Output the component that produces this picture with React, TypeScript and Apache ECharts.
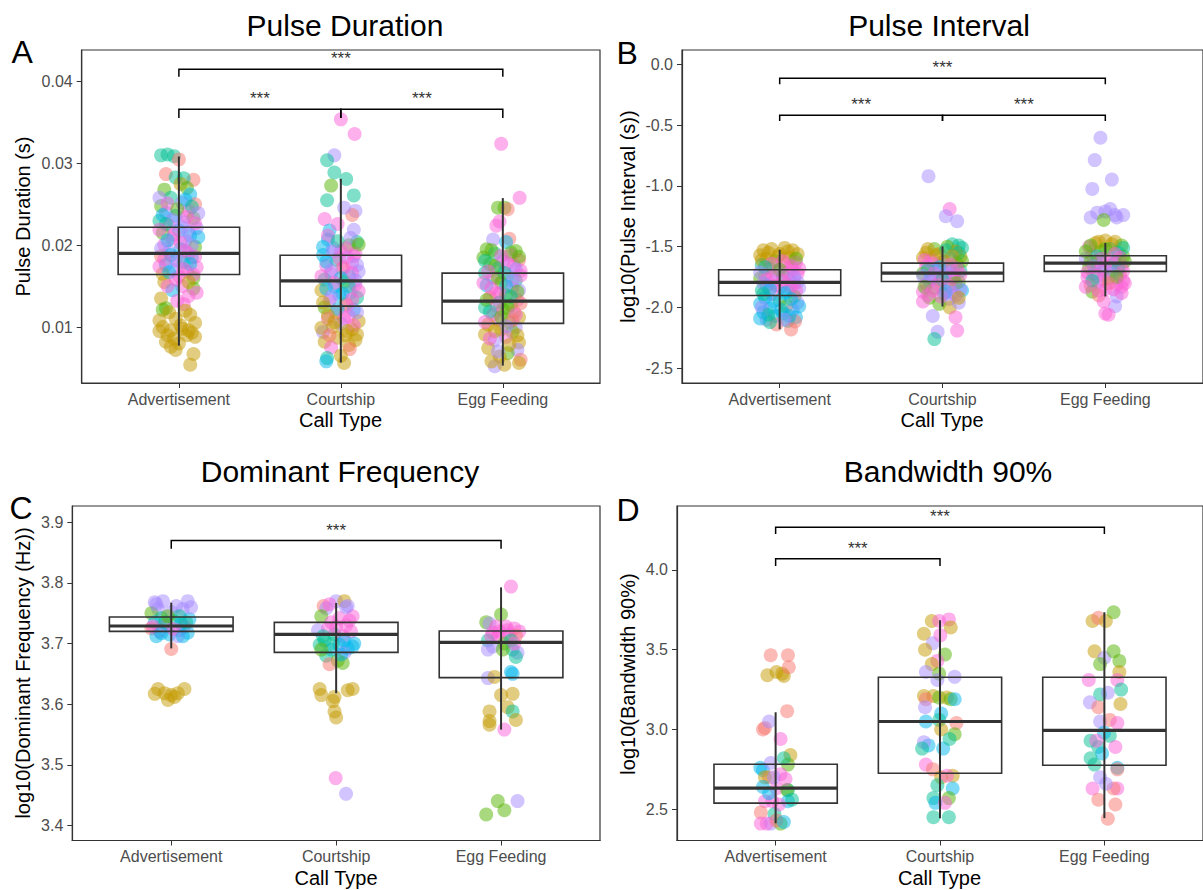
import React, { useEffect, useRef } from "react";
import * as echarts from "echarts";

const FONT = '"Liberation Sans", Arial, Helvetica, sans-serif';
const PALETTE = ["#F8766D", "#C49A00", "#53B400", "#00C094", "#00B6EB", "#A58AFF", "#FB61D7"];
const CATEGORIES = ["Advertisement", "Courtship", "Egg Feeding"];

// ---------- Panel A : Pulse Duration ----------  [jitter, value, colour index]
const pdAdv = [
  [-0.11,0.0310,3],[-0.07,0.0311,3],[-0.03,0.0309,3],[0.00,0.0305,0],[-0.08,0.0287,0],[0.09,0.0280,0],[-0.02,0.0283,3],[0.03,0.0282,3],[-0.09,0.0268,2],[0.01,0.0275,1],[0.05,0.0270,2],[0.07,0.0262,4],[-0.05,0.0258,3],[0.10,0.0250,0],[-0.11,0.0248,2],[0.02,0.0252,5],
  [-0.08,0.0240,5],[0.06,0.0242,6],[-0.02,0.0236,4],[0.09,0.0233,2],[-0.12,0.0230,3],[0.03,0.0228,5],[-0.06,0.0224,6],[0.11,0.0221,5],[0.00,0.0218,4],[-0.10,0.0215,2],[0.07,0.0212,4],[-0.04,0.0208,6],[0.04,0.0205,5],[-0.09,0.0201,6],[0.10,0.0198,2],[0.01,0.0195,4],[-0.06,0.0192,5],[0.06,0.0190,6],[-0.11,0.0187,0],[0.08,0.0185,4],[-0.02,0.0182,6],[0.03,0.0179,3],[-0.08,0.0176,4],[0.11,0.0173,6],[-0.04,0.0170,5],[0.05,0.0168,6],[-0.10,0.0165,1],[0.00,0.0162,6],[0.09,0.0160,2],
  [-0.09,0.0155,1],[0.02,0.0150,6],[-0.04,0.0145,4],[0.09,0.0147,2],[0.06,0.0138,6],[-0.11,0.0135,1],[-0.08,0.0123,2],[-0.10,0.0121,2],[0.03,0.0128,6],[-0.06,0.0118,1],[0.07,0.0115,1],[-0.02,0.0110,1],[0.10,0.0105,1],[-0.10,0.0100,1],[-0.05,0.0096,1],[0.02,0.0098,1],[0.08,0.0093,1],[-0.12,0.0095,1],[0.05,0.0090,1],[-0.03,0.0086,1],[0.10,0.0088,1],[-0.08,0.0082,1],[0.00,0.0080,1],[-0.05,0.0076,1],[-0.02,0.0072,1],[0.09,0.0067,1],[0.07,0.0054,1],
  [-0.12,0.0258,5],[0.04,0.0256,4],[-0.07,0.0251,6],[0.08,0.0247,3],[-0.01,0.0244,2],[0.12,0.0239,5],[-0.10,0.0237,4],[0.05,0.0235,6],[-0.04,0.0231,5],[0.10,0.0227,6],[-0.08,0.0226,3],[0.02,0.0222,5],[-0.12,0.0219,6],[0.06,0.0216,5],[-0.03,0.0213,6],[0.12,0.0210,4],[-0.07,0.0206,4],[0.01,0.0203,6],[0.08,0.0200,5],[-0.11,0.0196,5],[0.04,0.0193,6],[-0.05,0.0188,4],[0.10,0.0186,6],[-0.09,0.0183,6],[0.00,0.0180,5],[0.07,0.0177,4],[-0.12,0.0174,6],[0.03,0.0171,6],[-0.06,0.0167,4],[0.09,0.0164,6],[-0.02,0.0158,6],[0.06,0.0155,1],[-0.07,0.0150,6],[0.11,0.0142,6],[-0.01,0.0132,6],[0.04,0.0120,1],[-0.12,0.0108,1],[0.01,0.0102,1],[0.06,0.0096,1],[-0.07,0.0090,1],
];
const pdCourt = [
  [0.00,0.0354,6],[0.085,0.0336,6],[-0.04,0.0310,5],[-0.085,0.0304,3],[-0.04,0.0289,3],[0.033,0.0281,3],[-0.06,0.0273,2],[0.08,0.0261,3],[-0.085,0.0255,3],[0.09,0.0242,5],[-0.10,0.0232,6],[0.07,0.0237,0],[-0.07,0.0218,4],[0.08,0.0219,5],[0.10,0.0204,3],[-0.08,0.0207,4],[0.02,0.0246,5],[-0.02,0.0226,6],
  [0.05,0.0200,2],[-0.05,0.0197,5],[0.00,0.0193,6],[0.09,0.0190,6],[-0.11,0.0188,4],[0.04,0.0185,5],[-0.03,0.0182,3],[0.07,0.0178,6],[-0.09,0.0175,6],[0.01,0.0172,0],[0.11,0.0168,5],[-0.06,0.0165,6],[0.05,0.0162,4],[-0.10,0.0158,3],[0.02,0.0155,2],[0.09,0.0152,6],[-0.04,0.0149,4],[-0.12,0.0145,1],[0.06,0.0142,5],[-0.01,0.0139,4],[0.10,0.0136,3],[-0.07,0.0132,6],[0.03,0.0128,1],[-0.10,0.0124,2],[0.08,0.0121,4],[-0.03,0.0117,0],[0.05,0.0113,6],[-0.08,0.0110,6],[0.11,0.0107,1],[0.00,0.0104,5],[-0.05,0.0100,1],[0.07,0.0097,1],[-0.11,0.0094,5],[0.03,0.0090,1],[-0.02,0.0087,1],[0.09,0.0084,1],[-0.10,0.0082,1],[0.05,0.0078,1],[-0.06,0.0075,6],[0.055,0.0073,0],[-0.085,0.0062,3],[-0.09,0.0058,4],[0.02,0.0056,1],[0.00,0.0065,1],
  [-0.08,0.0212,6],[0.06,0.0209,5],[-0.02,0.0205,3],[0.11,0.0201,2],[-0.11,0.0198,4],[0.03,0.0196,6],[-0.05,0.0192,5],[0.08,0.0187,6],[-0.01,0.0184,6],[-0.09,0.0180,4],[0.10,0.0176,5],[0.02,0.0173,6],[-0.06,0.0169,5],[0.07,0.0166,6],[-0.12,0.0162,6],[0.00,0.0160,4],[0.09,0.0157,5],[-0.04,0.0154,6],[0.05,0.0150,3],[-0.09,0.0147,4],[0.11,0.0144,6],[0.01,0.0141,4],[-0.06,0.0137,5],[0.07,0.0134,6],[-0.11,0.0130,1],[0.04,0.0126,6],[-0.02,0.0122,4],[0.10,0.0118,5],[-0.08,0.0114,1],[0.02,0.0111,6],[-0.04,0.0106,1],[0.08,0.0102,6],[-0.12,0.0099,1],[0.04,0.0095,1],[-0.07,0.0090,0],[0.10,0.0091,1],
];
const pdEgg = [
  [-0.01,0.0324,6],[0.104,0.0258,6],[-0.03,0.0246,2],[0.01,0.0246,2],[0.03,0.0244,0],[-0.02,0.0229,6],[-0.04,0.0224,6],[-0.06,0.0207,5],[0.04,0.0208,0],[0.02,0.0204,4],
  [-0.10,0.0195,2],[0.08,0.0193,2],[-0.05,0.0190,3],[0.05,0.0188,6],[-0.12,0.0185,2],[0.10,0.0182,0],[0.00,0.0180,5],[-0.08,0.0177,2],[0.07,0.0175,6],[-0.03,0.0172,4],[0.11,0.0169,6],[-0.11,0.0166,3],[0.03,0.0163,5],[-0.06,0.0160,6],[0.08,0.0157,3],[-0.01,0.0154,2],[-0.10,0.0151,4],[0.06,0.0148,6],[0.10,0.0145,5],[-0.04,0.0142,6],[0.02,0.0139,2],[-0.08,0.0136,0],[0.09,0.0133,6],[-0.02,0.0130,3],[0.05,0.0127,2],[-0.11,0.0124,3],[0.00,0.0121,2],[0.07,0.0118,0],[-0.06,0.0115,6],[0.10,0.0112,1],[-0.03,0.0109,6],[0.04,0.0106,2],[-0.09,0.0103,1],[0.08,0.0100,5],[-0.01,0.0097,1],[0.06,0.0094,2],[-0.11,0.0091,1],[0.02,0.0088,6],[-0.05,0.0084,5],[0.10,0.0081,1],[-0.09,0.0074,1],[0.09,0.0072,5],[0.03,0.0068,2],[-0.02,0.0064,1],[0.11,0.0060,0],[-0.05,0.0052,5],[0.01,0.0054,1],[0.10,0.0056,1],[-0.07,0.0058,1],
  [-0.07,0.0194,2],[0.05,0.0191,2],[-0.01,0.0187,6],[0.10,0.0186,2],[-0.11,0.0181,3],[0.03,0.0178,6],[-0.05,0.0174,2],[0.08,0.0171,5],[-0.09,0.0168,6],[0.01,0.0166,3],[0.11,0.0163,6],[-0.03,0.0160,2],[0.06,0.0157,5],[-0.12,0.0154,6],[0.02,0.0150,4],[-0.07,0.0147,6],[0.09,0.0143,2],[-0.02,0.0141,6],[0.05,0.0137,3],[-0.10,0.0133,2],[0.11,0.0129,0],[-0.04,0.0126,6],[0.03,0.0123,2],[-0.08,0.0119,3],[0.08,0.0115,6],[-0.01,0.0112,2],[0.06,0.0108,0],[-0.11,0.0106,6],[0.02,0.0101,5],[-0.05,0.0095,1],[0.09,0.0090,1],[-0.08,0.0086,6],[0.04,0.0078,1],[-0.03,0.0070,5],
];
const pdBoxes = [
  [0.00772, 0.01642, 0.0190, 0.0222, 0.03085],
  [0.00565, 0.01256, 0.01565, 0.01878, 0.02813],
  [0.00528, 0.01045, 0.01317, 0.01659, 0.02577],
];
const pdBrackets = [[1, 3, 0.04154, 0.0406], [1, 2, 0.03663, 0.03557], [2, 3, 0.03663, 0.03557]];
const pdTicks = [0.01, 0.02, 0.03, 0.04];
const pdRange = [0.003154, 0.04388];

// ---------- Panel B : Pulse Interval ----------
const piAdv = [
  [-0.10,-1.53,1],[-0.05,-1.52,1],[0.03,-1.51,1],[0.08,-1.53,1],[0.11,-1.56,1],[-0.12,-1.57,1],[0.00,-1.56,1],[0.06,-1.59,1],[-0.08,-1.60,1],[-0.03,-1.62,2],[0.10,-1.63,6],[-0.11,-1.65,3],[0.04,-1.64,0],[-0.06,-1.68,2],[0.08,-1.69,6],[-0.01,-1.70,5],[0.11,-1.72,6],[-0.09,-1.73,6],[0.02,-1.74,3],[-0.12,-1.76,2],[0.06,-1.77,6],[-0.04,-1.79,5],[0.09,-1.80,6],[-0.08,-1.82,4],[0.01,-1.83,6],[0.12,-1.84,5],[-0.11,-1.86,3],[0.05,-1.87,4],[-0.05,-1.89,6],[0.09,-1.91,2],[-0.09,-1.92,4],[0.00,-1.94,3],[0.11,-1.96,5],[-0.12,-1.97,4],[0.04,-1.99,2],[-0.06,-2.01,4],[0.08,-2.02,5],[-0.10,-2.04,4],[0.02,-2.05,3],[-0.03,-2.07,4],[0.10,-2.08,4],[-0.08,-2.10,5],[0.05,-2.11,3],[-0.02,-2.14,0],[0.094,-2.115,0],[0.07,-2.18,0],[-0.06,-2.12,3],
  [-0.07,-1.55,1],[0.05,-1.54,1],[-0.01,-1.58,1],[0.10,-1.60,2],[-0.11,-1.61,1],[0.02,-1.62,6],[-0.05,-1.64,6],[0.07,-1.66,6],[-0.09,-1.67,3],[0.12,-1.68,6],[0.00,-1.69,2],[-0.12,-1.71,5],[0.05,-1.72,6],[-0.04,-1.74,6],[0.09,-1.75,5],[-0.08,-1.77,6],[0.02,-1.78,6],[0.11,-1.79,5],[-0.10,-1.80,5],[-0.02,-1.82,6],[0.07,-1.83,6],[-0.06,-1.85,4],[0.10,-1.86,6],[0.03,-1.88,4],[-0.10,-1.89,3],[0.07,-1.93,4],[-0.04,-1.95,4],[0.12,-1.99,4],[-0.11,-2.00,5],[0.01,-2.02,4],[-0.07,-2.06,3],[0.06,-2.07,4],[-0.12,-2.09,4],[0.03,-2.10,5],
];
const piCourt = [
  [-0.086,-0.92,5],[0.044,-1.19,6],[0.02,-1.25,5],[0.09,-1.29,5],[0.06,-1.48,3],[0.10,-1.49,3],[0.12,-1.51,3],[0.03,-1.50,2],[-0.05,-1.52,2],[-0.10,-1.55,1],[0.08,-1.54,1],[-0.02,-1.56,1],[0.11,-1.58,1],[-0.12,-1.59,1],[0.05,-1.60,4],[-0.07,-1.61,6],[0.00,-1.63,5],[0.09,-1.64,2],[-0.10,-1.66,6],[0.04,-1.67,3],[-0.04,-1.69,5],[0.11,-1.70,3],[-0.12,-1.72,2],[0.02,-1.73,6],[0.07,-1.75,5],[-0.07,-1.76,4],[-0.01,-1.78,6],[0.10,-1.79,2],[-0.10,-1.81,6],[0.05,-1.83,5],[-0.05,-1.84,2],[0.12,-1.86,4],[-0.12,-1.87,6],[0.01,-1.89,3],[0.08,-1.90,6],[-0.08,-1.92,2],[-0.12,-1.95,6],[0.04,-1.93,5],[0.045,-2.0,1],[-0.02,-1.97,2],[0.10,-1.96,5],[0.08,-2.08,6],[-0.06,-2.07,5],[-0.03,-2.20,5],[-0.05,-2.26,3],[0.09,-2.19,6],
  [-0.09,-1.52,1],[0.02,-1.53,3],[0.10,-1.55,3],[-0.04,-1.57,1],[0.06,-1.58,1],[-0.11,-1.61,6],[0.01,-1.62,1],[0.12,-1.62,2],[-0.06,-1.64,6],[0.05,-1.65,6],[-0.02,-1.67,4],[0.09,-1.68,6],[-0.09,-1.69,3],[0.03,-1.71,5],[-0.05,-1.72,6],[0.11,-1.73,6],[-0.12,-1.74,5],[0.06,-1.76,6],[0.00,-1.77,3],[-0.08,-1.78,5],[0.08,-1.80,2],[-0.03,-1.81,6],[0.04,-1.82,6],[-0.11,-1.83,2],[0.11,-1.85,5],[-0.06,-1.86,6],[0.02,-1.87,4],[-0.01,-1.91,6],[0.06,-1.88,5],[-0.09,-1.90,6],[0.10,-1.92,1],
];
const piEgg = [
  [-0.03,-0.604,5],[-0.065,-0.788,5],[0.04,-0.948,5],[-0.08,-1.025,5],[-0.09,-1.26,5],[-0.05,-1.22,5],[0.00,-1.21,5],[0.03,-1.19,5],[0.06,-1.24,5],[0.11,-1.24,5],[-0.01,-1.28,2],[0.07,-1.26,5],
  [0.00,-1.45,1],[0.06,-1.46,1],[-0.06,-1.47,1],[0.10,-1.49,2],[-0.10,-1.50,6],[0.03,-1.52,3],[-0.03,-1.54,2],[0.08,-1.55,3],[-0.08,-1.57,6],[0.11,-1.58,2],[-0.12,-1.60,5],[0.01,-1.61,6],[0.06,-1.63,3],[-0.05,-1.64,6],[0.10,-1.66,6],[-0.10,-1.67,2],[-0.01,-1.69,4],[0.05,-1.70,6],[-0.07,-1.72,3],[0.09,-1.73,0],[-0.11,-1.75,6],[0.02,-1.76,2],[0.11,-1.78,6],[-0.04,-1.79,5],[0.07,-1.81,6],[-0.09,-1.82,0],[0.10,-1.83,6],[0.00,-1.85,6],[-0.08,-1.87,2],[-0.04,-1.90,0],[0.07,-1.91,5],[0.06,-1.99,5],[-0.01,-1.95,6],[0.00,-2.05,6],[0.02,-2.06,6],
  [-0.04,-1.46,1],[0.04,-1.48,1],[-0.09,-1.49,2],[0.11,-1.51,3],[0.00,-1.52,2],[-0.12,-1.54,2],[0.06,-1.56,6],[-0.05,-1.58,3],[0.09,-1.59,6],[-0.02,-1.60,6],[-0.09,-1.62,2],[0.12,-1.62,2],[0.03,-1.65,6],[-0.07,-1.66,5],[0.08,-1.68,3],[-0.03,-1.68,6],[0.11,-1.70,6],[-0.11,-1.71,6],[0.04,-1.72,5],[-0.05,-1.74,6],[0.07,-1.75,2],[-0.01,-1.77,6],[-0.08,-1.78,3],[0.12,-1.80,6],[0.02,-1.80,0],[-0.12,-1.83,6],[0.05,-1.85,6],[-0.04,-1.86,6],[0.10,-1.88,6],
];
const piBoxes = [
  [-2.179, -1.901, -1.794, -1.690, -1.525],
  [-1.992, -1.786, -1.717, -1.635, -1.497],
  [-1.909, -1.703, -1.635, -1.574, -1.470],
];
const piBrackets = [[1, 3, -0.115, -0.165], [1, 2, -0.418, -0.467], [2, 3, -0.418, -0.467]];
const piTicks = [-2.5, -2.0, -1.5, -1.0, -0.5, 0.0];
const piRange = [-2.621, 0.1176];

// ---------- Panel C : Dominant Frequency ----------
const dfAdv = [
  [-0.10,3.768,5],[-0.05,3.770,5],[0.03,3.762,5],[0.10,3.770,5],[0.07,3.757,5],[-0.08,3.757,5],[-0.12,3.750,2],[0.00,3.752,5],[0.05,3.745,3],[-0.06,3.742,3],[0.11,3.740,4],[-0.10,3.735,4],[0.02,3.737,3],[-0.03,3.730,6],[0.08,3.728,6],[-0.12,3.725,0],[0.05,3.722,6],[-0.07,3.720,6],[0.10,3.718,4],[-0.01,3.715,4],[-0.09,3.712,4],[0.04,3.712,5],[0.00,3.691,0],
  [-0.08,3.625,1],[-0.04,3.618,1],[0.00,3.615,1],[-0.02,3.607,1],[0.04,3.618,1],[0.08,3.625,1],[-0.10,3.617,1],[0.02,3.612,1],
  [-0.04,3.735,3],[0.06,3.733,4],[-0.11,3.728,6],[0.09,3.735,3],[0.01,3.724,6],[-0.06,3.717,4],[0.07,3.712,4],[-0.02,3.745,2],[0.12,3.760,5],[-0.09,3.765,5],
];
const dfCourt = [
  [-0.076,3.762,0],[0.00,3.770,5],[0.05,3.770,1],[0.07,3.762,5],[-0.06,3.758,5],[0.10,3.745,6],[-0.09,3.745,2],[0.02,3.742,6],[-0.03,3.735,6],[0.06,3.730,6],[-0.11,3.722,5],[0.09,3.720,6],[-0.01,3.715,3],[0.04,3.712,6],[-0.07,3.705,3],[0.11,3.700,4],[0.02,3.698,4],[-0.10,3.698,3],[0.07,3.692,4],[-0.03,3.690,4],[0.05,3.685,5],[-0.06,3.680,3],[0.01,3.672,2],[0.04,3.668,2],[-0.04,3.666,0],
  [-0.10,3.625,1],[-0.09,3.615,1],[0.07,3.623,1],[0.10,3.625,1],[-0.01,3.612,1],[-0.02,3.605,1],[-0.01,3.588,1],[0.00,3.578,1],
  [-0.003,3.478,6],[0.06,3.452,5],
  [-0.05,3.725,6],[0.08,3.738,6],[0.00,3.728,6],[-0.08,3.712,3],[0.05,3.705,4],[-0.02,3.700,3],[0.10,3.695,4],[0.03,3.682,4],[-0.09,3.690,2],[0.06,3.760,5],[-0.04,3.765,6],
];
const dfEgg = [
  [0.06,3.794,6],[0.00,3.748,2],[-0.09,3.735,2],[-0.07,3.733,5],[-0.03,3.728,6],[0.03,3.728,6],[0.08,3.725,6],[0.11,3.720,6],[-0.05,3.718,6],[0.05,3.715,6],[-0.02,3.712,6],[0.09,3.713,0],[-0.08,3.705,3],[0.02,3.700,2],[-0.05,3.695,5],[-0.08,3.690,5],[0.07,3.690,3],[0.10,3.685,5],[0.09,3.678,3],
  [-0.08,3.643,5],[0.06,3.653,4],[0.07,3.650,4],[-0.04,3.645,1],[0.00,3.615,1],[0.07,3.617,1],[0.04,3.595,1],[-0.07,3.588,1],[0.07,3.588,3],[-0.07,3.572,1],[-0.07,3.566,1],[0.09,3.574,1],[0.02,3.558,6],
  [-0.02,3.440,2],[-0.09,3.418,2],[0.02,3.425,2],[0.10,3.440,5],
  [0.04,3.722,6],[-0.01,3.720,6],[0.06,3.705,3],[-0.06,3.712,6],[0.01,3.690,2],[0.08,3.700,6],
];
const dfBoxes = [
  [3.692, 3.7201, 3.729, 3.7438, 3.7674],
  [3.618, 3.6855, 3.7152, 3.735, 3.767],
  [3.558, 3.6437, 3.702, 3.7207, 3.7927],
];
const dfBrackets = [[1, 3, 3.870, 3.8565]];
const dfTicks = [3.4, 3.5, 3.6, 3.7, 3.8, 3.9];
const dfRange = [3.375, 3.927];

// ---------- Panel D : Bandwidth 90% ----------
const bwAdv = [
  [-0.03,3.465,0],[0.075,3.465,0],[-0.05,3.340,1],[0.005,3.360,1],[0.04,3.350,1],[0.05,3.335,1],[0.08,3.390,0],[0.07,3.115,0],[-0.065,3.010,0],[-0.077,3.000,0],[-0.04,3.050,5],[0.03,2.940,6],[0.09,2.840,1],[0.075,2.780,2],[0.05,2.820,3],[-0.093,2.760,4],[-0.077,2.745,4],[-0.03,2.790,5],[0.03,2.720,6],[-0.04,2.700,0],[-0.065,2.700,1],[-0.077,2.640,4],[0.075,2.620,3],[0.005,2.630,6],[0.07,2.620,2],[-0.02,2.550,6],[0.075,2.550,4],[-0.065,2.550,6],[0.10,2.560,3],[-0.04,2.600,4],[-0.09,2.480,0],[-0.007,2.470,3],[-0.09,2.410,6],[-0.03,2.410,5],[0.03,2.410,2],[-0.054,2.410,6],[0.005,2.430,0],[0.05,2.420,4],[0.02,2.530,6],[-0.01,2.700,5],[0.06,2.690,6],
];
const bwCourt = [
  [-0.05,3.680,1],[-0.005,3.680,6],[0.054,3.690,6],[0.065,3.640,1],[-0.098,3.600,1],[-0.044,3.540,5],[0.002,3.590,6],[-0.091,3.500,1],[0.03,3.470,2],[-0.016,3.430,6],[-0.05,3.410,1],[-0.086,3.360,5],[-0.005,3.350,2],[0.089,3.330,5],[-0.016,3.310,5],[-0.098,3.210,1],[-0.04,3.210,1],[-0.086,3.190,0],[-0.005,3.200,2],[0.042,3.200,1],[0.065,3.190,2],[0.089,3.190,4],[-0.091,3.140,5],[0.007,3.100,4],[-0.086,3.050,4],[-0.005,3.060,3],[0.100,3.040,0],[0.007,3.000,1],[0.089,2.970,2],[-0.07,2.900,4],[-0.098,2.920,5],[-0.109,2.880,3],[0.019,2.880,4],[0.058,2.940,3],[-0.086,2.780,6],[-0.044,2.750,0],[0.007,2.700,1],[0.077,2.710,1],[0.042,2.710,6],[-0.016,2.650,3],[0.077,2.630,4],[-0.04,2.570,3],[0.054,2.570,2],[-0.028,2.540,4],[0.030,2.540,6],[-0.04,2.450,3],[0.054,2.450,3],
];
const bwEgg = [
  [-0.072,3.680,1],[-0.037,3.700,0],[0.009,3.680,1],[0.056,3.735,2],[-0.06,3.490,1],[0.00,3.450,5],[0.056,3.490,2],[0.091,3.430,2],[0.091,3.360,1],[-0.026,3.410,2],[-0.095,3.310,6],[0.079,3.310,6],[-0.026,3.220,3],[0.021,3.230,5],[0.102,3.250,3],[-0.088,3.170,5],[-0.037,3.140,0],[0.098,3.160,1],[-0.026,3.050,5],[0.033,3.060,0],[0.079,3.040,6],[0.033,2.960,3],[-0.084,2.930,3],[-0.037,2.890,3],[0.067,2.890,6],[-0.014,2.850,4],[-0.084,2.820,3],[-0.06,2.780,3],[0.079,2.760,4],[-0.026,2.700,5],[0.079,2.750,0],[-0.072,2.630,6],[0.079,2.630,6],[0.056,2.630,0],[-0.037,2.560,0],[0.067,2.530,0],[0.021,2.440,0],[0.009,2.660,5],[-0.002,2.980,4],[-0.049,2.930,6],
];
const bwBoxes = [
  [2.412, 2.538, 2.632, 2.782, 3.108],
  [2.444, 2.726, 3.050, 3.327, 3.685],
  [2.444, 2.776, 2.995, 3.327, 3.735],
];
const bwBrackets = [[1, 3, 4.267, 4.226], [1, 2, 4.071, 4.025]];
const bwTicks = [2.5, 3.0, 3.5, 4.0];
const bwRange = [2.304, 4.401];

const SIG_LABEL = "***";
const BOX_HALF = 0.375;

const panels = [
  { groups: [pdAdv, pdCourt, pdEgg], boxes: pdBoxes, brackets: pdBrackets, ticks: pdTicks, range: pdRange, digits: 2,
    grid: { left: 81.7, top: 50, width: 518.3, height: 333 } },
  { groups: [piAdv, piCourt, piEgg], boxes: piBoxes, brackets: piBrackets, ticks: piTicks, range: piRange, digits: 1,
    grid: { left: 682, top: 50, width: 522, height: 333 } },
  { groups: [dfAdv, dfCourt, dfEgg], boxes: dfBoxes, brackets: dfBrackets, ticks: dfTicks, range: dfRange, digits: 1,
    grid: { left: 72.3, top: 506, width: 527.7, height: 334.5 } },
  { groups: [bwAdv, bwCourt, bwEgg], boxes: bwBoxes, brackets: bwBrackets, ticks: bwTicks, range: bwRange, digits: 1,
    grid: { left: 677, top: 506, width: 527, height: 334.5 } },
];

const LINE = "#333333";

function renderBox(params: any, api: any) {
  const x = api.value(0);
  const lo = api.coord([x, api.value(1)]);
  const hi = api.coord([x, api.value(5)]);
  const q1L = api.coord([x - BOX_HALF, api.value(2)]);
  const q3R = api.coord([x + BOX_HALF, api.value(4)]);
  const mL = api.coord([x - BOX_HALF, api.value(3)]);
  const mR = api.coord([x + BOX_HALF, api.value(3)]);
  return {
    type: "group",
    children: [
      { type: "line", shape: { x1: lo[0], y1: lo[1], x2: hi[0], y2: hi[1] }, style: { stroke: LINE, lineWidth: 2 } },
      { type: "rect", shape: { x: q1L[0], y: q3R[1], width: q3R[0] - q1L[0], height: q1L[1] - q3R[1] },
        style: { fill: "none", stroke: LINE, lineWidth: 1.6 } },
      { type: "line", shape: { x1: mL[0], y1: mL[1], x2: mR[0], y2: mR[1] }, style: { stroke: LINE, lineWidth: 3.2 } },
    ],
  };
}

function renderBracket(params: any, api: any) {
  const x1 = api.value(0), x2 = api.value(1), y = api.value(2), tip = api.value(3);
  const a = api.coord([x1, tip]);
  const b = api.coord([x1, y]);
  const c = api.coord([x2, y]);
  const d = api.coord([x2, tip]);
  return {
    type: "group",
    children: [
      { type: "polyline", shape: { points: [a, b, c, d] }, style: { fill: "none", stroke: "#000", lineWidth: 1.5 } },
      { type: "text", x: (b[0] + c[0]) / 2, y: b[1] - 10.4,
        style: { text: SIG_LABEL, fill: "#333", fontSize: 17, fontFamily: FONT, align: "center", verticalAlign: "middle" } },
    ],
  };
}

function makeText(text: string, x: number, y: number, size: number, rotate = false, align = "center") {
  return {
    type: "text", x, y, rotation: rotate ? Math.PI / 2 : 0,
    style: { text, fill: "#000", fontSize: size, fontFamily: FONT, align, verticalAlign: "middle",
      textAlign: align, textVerticalAlign: "middle" },
  };
}

export default function App() {
  const ref = useRef<HTMLDivElement>(null);
  useEffect(() => {
    document.body.style.margin = "0";
    if (!ref.current) return;
    const chart = echarts.init(ref.current, null, { renderer: "svg" });
    const grid: any[] = [], xAxis: any[] = [], yAxis: any[] = [], series: any[] = [];
    panels.forEach((p, i) => {
      grid.push({ ...p.grid, show: true, borderColor: LINE, borderWidth: 1.2, backgroundColor: "transparent", containLabel: false });
      xAxis.push({
        type: "value", gridIndex: i, min: 0.4, max: 3.6, position: "bottom",
        axisLine: { show: true, onZero: false, lineStyle: { color: LINE, width: 1.2 } },
        axisTick: { show: true, customValues: [1, 2, 3], length: 5, lineStyle: { color: LINE, width: 1 } },
        axisLabel: { customValues: [1, 2, 3], formatter: (v: number) => CATEGORIES[Math.round(v) - 1],
          fontSize: 16, color: "#4D4D4D", margin: 8, fontFamily: FONT },
        splitLine: { show: false },
      });
      yAxis.push({
        type: "value", gridIndex: i, min: p.range[0], max: p.range[1], position: "left",
        axisLine: { show: true, onZero: false, lineStyle: { color: LINE, width: 1.2 } },
        axisTick: { show: true, customValues: p.ticks, length: 5, lineStyle: { color: LINE, width: 1 } },
        axisLabel: { customValues: p.ticks, formatter: (v: number) => v.toFixed(p.digits),
          fontSize: 16, color: "#4D4D4D", margin: 9, fontFamily: FONT },
        splitLine: { show: false },
      });
      const pts: any[] = [];
      p.groups.forEach((g, gi) => g.forEach(([dx, y, c]) => {
        pts.push({ value: [gi + 1 + dx, y], itemStyle: { color: PALETTE[c] } });
      }));
      series.push({ type: "scatter", xAxisIndex: i, yAxisIndex: i, data: pts, symbolSize: 14,
        itemStyle: { opacity: 0.5 }, z: 2, silent: true });
      series.push({ type: "custom", xAxisIndex: i, yAxisIndex: i, renderItem: renderBox, z: 3, silent: true,
        encode: { x: 0, y: [1, 2, 3, 4, 5] }, data: p.boxes.map((b, gi) => [gi + 1, ...b]) });
      series.push({ type: "custom", xAxisIndex: i, yAxisIndex: i, renderItem: renderBracket, z: 4, silent: true,
        encode: { x: [0, 1], y: [2, 3] }, data: p.brackets });
    });
    const graphics = [
      makeText("Pulse Duration", 345, 25, 30),
      makeText("Pulse Interval", 939, 25, 30),
      makeText("Dominant Frequency", 340, 471.5, 30),
      makeText("Bandwidth 90%", 948, 471.5, 30),
      makeText("A", 11.5, 51.5, 32, false, "left"),
      makeText("B", 616.5, 52.5, 32, false, "left"),
      makeText("C", 9.5, 507.5, 32, false, "left"),
      makeText("D", 616.5, 510, 32, false, "left"),
      makeText("Pulse Duration (s)", 22.5, 216.5, 20, true),
      makeText("log10(Pulse Interval (s))", 628, 216.5, 20, true),
      makeText("log10(Dominant Frequency (Hz))", 23, 673, 20, true),
      makeText("log10(Bandwidth 90%)", 628, 674, 20, true),
      makeText("Call Type", 340.5, 419.5, 20),
      makeText("Call Type", 942, 419.5, 20),
      makeText("Call Type", 336, 878, 20),
      makeText("Call Type", 939.5, 878, 20),
    ];
    chart.setOption({
      animation: false,
      backgroundColor: "#ffffff",
      grid, xAxis, yAxis, series,
      graphic: { elements: graphics },
    });
    return () => chart.dispose();
  }, []);
  return <div ref={ref} style={{ width: 1203, height: 890 }} />;
}
